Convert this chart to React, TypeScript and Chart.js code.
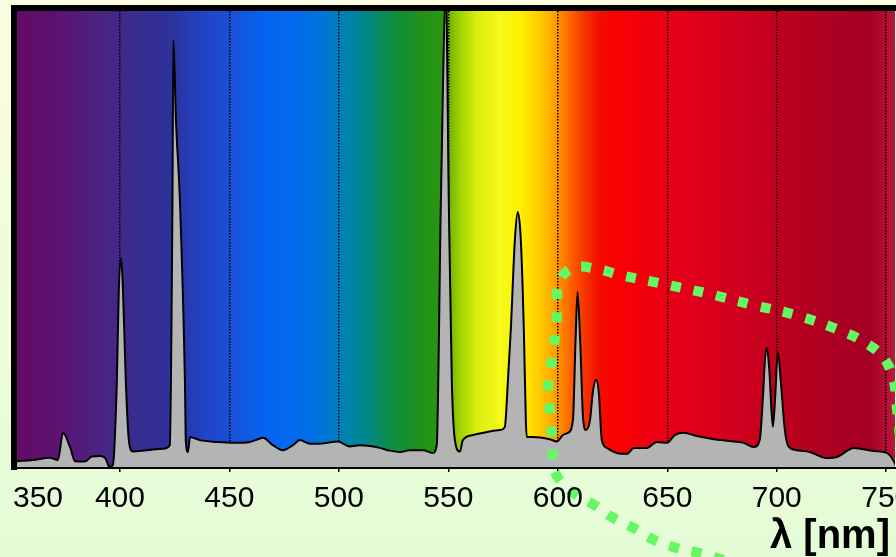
import React, { useEffect, useRef } from "react";
import { Chart, registerables } from "chart.js";

Chart.register(...registerables);

// Spectrum: wavelength (nm) and relative intensity (%)
const WAVELENGTH_NM = [
  353.0, 360.3, 368.0, 371.7, 374.0, 377.2, 379.5, 384.0, 387.2, 390.9, 393.2, 395.4, 396.8,
  398.6, 399.5, 400.5, 401.4, 402.7, 404.1, 405.9, 412.3, 419.6, 422.8, 424.0, 424.4, 425.6,
  427.4, 429.7, 430.1, 431.1, 432.0, 436.5, 444.3, 451.6, 459.4, 463.0, 465.3, 469.9, 474.4,
  479.0, 482.2, 486.8, 491.3, 499.5, 505.0, 509.6, 514.2, 518.7, 523.3, 527.9, 532.4, 538.4,
  542.9, 544.7, 546.6, 548.9, 550.2, 551.6, 553.0, 555.3, 556.6, 561.2, 567.6, 573.5, 575.8,
  577.2, 578.5, 580.4, 581.7, 583.1, 584.5, 585.4, 585.8, 588.6, 596.3, 599.5, 602.3, 604.6,
  606.9, 608.1, 609.0, 610.2, 611.6, 612.9, 614.7, 616.0, 617.4, 618.8, 619.7, 620.1, 622.4,
  627.0, 631.6, 634.7, 640.6, 645.2, 649.8, 653.4, 657.5, 663.5, 671.2, 678.5, 684.9, 689.5,
  692.2, 693.6, 694.6, 695.5, 696.6, 698.2, 699.2, 700.5, 701.8, 703.7, 705.5, 709.1, 715.1,
  722.8, 727.4, 735.2, 744.3, 750.2, 753.9, 754.8,
];
const INTENSITY = [
  1.5, 1.75, 2.25, 1.75, 7.7, 4.6, 1.5, 1.4, 2.5, 2.6, 2.2, 0.2, 0.7,
  19, 39, 46, 39, 19, 6, 3.6, 3.9, 4.2, 5.0, 58.6, 93.7, 76,
  58.6, 19, 6, 3.5, 6.8, 6.1, 5.7, 5.5, 5.7, 6.3, 6.6, 5.0, 3.9,
  5.0, 6.1, 5.3, 5.3, 5.8, 4.7, 5.0, 4.8, 4.4, 3.8, 3.5, 3.9, 3.9,
  3.3, 5.0, 58.6, 104, 58.6, 19, 6.1, 3.6, 6.1, 7.2, 7.9, 8.3, 9.0,
  19, 30, 50, 56, 50, 30, 10.5, 6.8, 6.8, 6.3, 5.8, 7.2, 7.7,
  10.5, 28, 38.5, 28, 10.5, 8.3, 10.5, 16.6, 19.3, 16, 8.3, 6.1, 4.4,
  3.3, 3.1, 4.4, 4.4, 5.7, 5.5, 7.2, 7.7, 7.0, 6.3, 5.9, 5.5, 4.6,
  6.1, 14.9, 23.6, 26.3, 21.4, 9.0, 14.9, 25.4, 19.3, 8.3, 4.6, 3.9, 3.5,
  2.2, 2.4, 4.4, 3.7, 3.3, 1.1, 0,
];

// Green dotted loop (same units: nm, %)
const LOOP_NM = [
  675.6, 664.7, 654.2, 644.1, 634.5, 624.5, 616.7, 606.6, 598.9, 597.5, 597.0, 596.1, 595.7,
  597.5, 598.9, 599.8, 600.4, 607.1, 618.5, 628.6, 645.9, 667.4, 688.9, 709.9, 730.5, 740.5,
  748.8, 753.3, 754.7, 756.4,
];
const LOOP_VALUE = [
  -20.1, -18.6, -17.5, -15.8, -13.1, -10.7, -8.1, -5.3, -1.1, 3.9, 9.0, 14.2, 19.3,
  24.3, 29.8, 35.0, 40.5, 43.8, 43.5, 42.2, 40.5, 38.3, 35.7, 33.3, 29.8, 27.4,
  24.1, 19.3, 13.8, 6.1,
];

const GRID_TICKS = [400, 450, 500, 550, 600, 650, 700, 750];
const TICK_LABELS = ["350", "400", "450", "500", "550", "600", "650", "700", "750"];
const TICK_VALUES = [350, 400, 450, 500, 550, 600, 650, 700, 750];
const AXIS_TITLE = "λ [nm]";

// Background colour stops across the visible spectrum (nm -> colour)
const BG_STOP_NM = [
  353, 372.7, 390.9, 409.2, 422.9, 436.6, 450.3, 466.3, 477.8, 491.5, 502.9, 512.0, 523.5,
  537.2, 548.5, 550.5, 555.5, 562.3, 573.7, 582.9, 592.0, 598.9, 605.7, 612.6, 619.5, 628.6,
  646.9, 674.3, 701.7, 729.1, 742.9, 749.7, 754,
];
const BG_STOP_COLOR = [
  "rgb(100,10,100)", "rgb(90,20,115)", "rgb(75,35,130)", "rgb(55,45,145)", "rgb(45,50,155)",
  "rgb(35,65,195)", "rgb(25,80,215)", "rgb(5,100,240)", "rgb(5,105,240)", "rgb(0,115,220)",
  "rgb(0,130,175)", "rgb(0,135,140)", "rgb(15,140,70)", "rgb(30,145,25)", "rgb(45,150,15)",
  "rgb(115,180,0)", "rgb(160,210,0)", "rgb(215,235,15)", "rgb(245,250,25)", "rgb(255,240,0)",
  "rgb(255,200,0)", "rgb(255,160,0)", "rgb(255,100,0)", "rgb(245,50,0)", "rgb(245,10,0)",
  "rgb(250,0,5)", "rgb(235,0,20)", "rgb(215,0,30)", "rgb(190,0,30)", "rgb(170,0,35)",
  "rgb(165,0,35)", "rgb(180,15,50)", "rgb(185,25,60)",
];

const FONT = "'Liberation Sans', Arial, sans-serif";

const spectrumBackground = {
  id: "spectrumBackground",
  beforeDraw(chart: any) {
    const { ctx, chartArea } = chart;
    const xs = chart.scales.x;
    const g = ctx.createLinearGradient(chartArea.left, 0, chartArea.right, 0);
    const w = chartArea.right - chartArea.left;
    BG_STOP_NM.forEach((nm, i) => {
      const f = (xs.getPixelForValue(nm) - chartArea.left) / w;
      g.addColorStop(Math.min(1, Math.max(0, f)), BG_STOP_COLOR[i]);
    });
    ctx.save();
    ctx.fillStyle = g;
    ctx.fillRect(chartArea.left, chartArea.top, w, chartArea.bottom - chartArea.top);
    ctx.restore();
  },
};

const frameAndLabels = {
  id: "frameAndLabels",
  afterDatasetDraw(chart: any, args: any) {
    if (args.index !== 1) return;
    const { ctx, chartArea } = chart;
    const { left, top, right, bottom } = chartArea;
    ctx.save();
    ctx.fillStyle = "#000";
    ctx.fillRect(left - 6, top - 6, right - left + 12, 6);
    ctx.fillRect(left - 6, top - 6, 6, bottom - top + 8);
    ctx.fillRect(left - 6, bottom - 1, right - left + 12, 2);
    ctx.restore();
  },
  afterDraw(chart: any) {
    const { ctx, chartArea } = chart;
    const xs = chart.scales.x;
    ctx.save();
    ctx.fillStyle = "#000";
    ctx.font = `30px ${FONT}`;
    ctx.textBaseline = "alphabetic";
    ctx.textAlign = "left";
    TICK_VALUES.forEach((v, i) => {
      const label = TICK_LABELS[i];
      const w = ctx.measureText(label).width;
      let x = xs.getPixelForValue(v) - w / 2;
      if (x < 13) x = 13;
      ctx.fillText(label, x, chartArea.bottom + 39);
    });
    ctx.font = `bold 40px ${FONT}`;
    ctx.fillText(AXIS_TITLE, chartArea.right - 125, chartArea.bottom + 80);
    ctx.restore();
  },
};

export default function App() {
  const ref = useRef<HTMLCanvasElement>(null);
  useEffect(() => {
    const spectrum = WAVELENGTH_NM.map((x, i) => ({ x, y: INTENSITY[i] }));
    const loop = LOOP_NM.map((x, i) => ({ x, y: LOOP_VALUE[i] }));
    const chart = new Chart(ref.current as HTMLCanvasElement, {
      type: "line",
      data: {
        datasets: [
          {
            label: "loop",
            data: loop,
            borderColor: "rgb(100,248,100)",
            borderWidth: 10,
            borderDash: [10, 13],
            borderCapStyle: "butt",
            pointRadius: 0,
            fill: false,
            tension: 0.4,
            clip: false as any,
            order: 0,
          },
          {
            label: "spectrum",
            data: spectrum,
            borderColor: "#000",
            borderWidth: 2,
            backgroundColor: "#b4b4b4",
            fill: "origin",
            pointRadius: 0,
            cubicInterpolationMode: "monotone",
            order: 1,
          },
        ],
      },
      options: {
        responsive: false,
        animation: false,
        devicePixelRatio: 1,
        layout: { padding: { left: 17, top: 11, right: 1, bottom: 85 } },
        plugins: { legend: { display: false }, tooltip: { enabled: false } },
        scales: {
          x: {
            type: "linear",
            min: 353,
            max: 754,
            afterBuildTicks: (scale: any) => {
              scale.ticks = GRID_TICKS.map((v) => ({ value: v }));
            },
            ticks: { display: false },
            grid: {
              color: "#000",
              lineWidth: 1.5,
              drawTicks: true,
              tickLength: 4,
              tickColor: "#000",
              tickWidth: 1.5,
            },
            border: { display: false, dash: [1.5, 1.5] },
          },
          y: { display: false, min: 0, max: 100 },
        },
      },
      plugins: [spectrumBackground, frameAndLabels],
    } as any);
    return () => chart.destroy();
  }, []);
  return (
    <div
      style={{
        position: "fixed",
        left: 0,
        top: 0,
        width: 896,
        height: 557,
        overflow: "hidden",
        background: "linear-gradient(to bottom, #fbfde0 0%, #eefcdc 60%, #e3fcd6 100%)",
      }}
    >
      <canvas ref={ref} width={896} height={557} style={{ display: "block", width: 896, height: 557 }} />
    </div>
  );
}
